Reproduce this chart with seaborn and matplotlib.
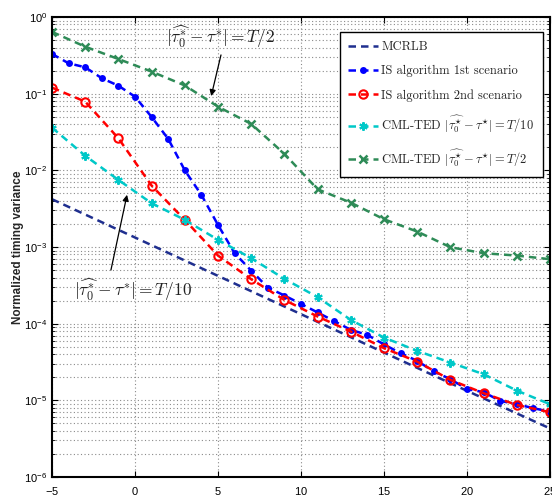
import numpy as np
import pandas as pd
import matplotlib
matplotlib.use("Agg")
import matplotlib.pyplot as plt
import seaborn as sns

# SNR grids (dB)
snr_1db = list(range(-5, 26))
snr_2db = list(range(-5, 26, 2))
snr_bound = [-5, 0, 5, 10, 15, 20, 25]

# Modified Cramer-Rao lower bound
mcrlb = [4.2e-3, 1.33e-3, 4.2e-4, 1.33e-4, 4.2e-5, 1.33e-5, 4.3e-6]

# IS algorithm, 1st scenario (every dB)
is_first = [0.33, 0.249, 0.221, 0.159, 0.127, 0.0914, 0.0497, 0.0257, 0.0100,
            0.00478, 0.00194, 8.3e-4, 4.92e-4, 2.96e-4, 2.33e-4, 1.81e-4,
            1.40e-4, 1.08e-4, 8.3e-5, 7.14e-5, 5.35e-5, 4.12e-5, 3.27e-5,
            2.38e-5, 1.89e-5, 1.40e-5, 1.28e-5, 9.84e-6, 8.9e-6, 7.9e-6, 7.1e-6]

# IS algorithm, 2nd scenario (every 2 dB)
is_second = [0.12, 0.0787, 0.0262, 0.00632, 0.00226, 7.73e-4, 3.8e-4, 2.04e-4,
             1.24e-4, 7.9e-5, 4.79e-5, 3.2e-5, 1.85e-5, 1.24e-5, 8.7e-6, 7.0e-6]

# CML-TED with initial offset T/10
cml_t10 = [0.036, 0.0155, 0.0075, 0.00372, 0.00226, 0.00124, 7.14e-4, 3.84e-4,
           2.22e-4, 1.12e-4, 6.59e-5, 4.42e-5, 3.11e-5, 2.19e-5, 1.34e-5, 8.9e-6]

# CML-TED with initial offset T/2
cml_t2 = [0.64, 0.41, 0.283, 0.194, 0.128, 0.0677, 0.0403, 0.0164, 0.00566,
          0.00379, 0.0023, 0.00159, 9.93e-4, 8.3e-4, 7.73e-4, 6.93e-4]

labels = [
    "MCRLB",
    "IS algorithm 1st scenario",
    "IS algorithm 2nd scenario",
    r"CML-TED $|\widehat{\tau_0^{\star}}-\tau^{\star}|=T/10$",
    r"CML-TED $|\widehat{\tau_0^{\star}}-\tau^{\star}|=T/2$",
]

sns.set_style("ticks")
plt.rcParams["mathtext.fontset"] = "cm"
plt.rcParams["font.family"] = ["Liberation Sans", "DejaVu Sans"]
plt.rcParams["axes.formatter.use_mathtext"] = True

fig = plt.figure(figsize=(5.52, 4.99), dpi=100)
ax = fig.add_axes([52 / 552, 1 - 477 / 499, 498 / 552, 460 / 499])

dash = (3, 2)
lw = 1.8

sns.lineplot(x=snr_bound, y=mcrlb, ax=ax, color="#1f2f8f", lw=lw,
             dashes=False, label=labels[0])
ax.lines[-1].set_dashes(dash)

sns.lineplot(x=snr_1db, y=is_first, ax=ax, color="#0000ff", lw=lw,
             marker="o", markersize=5, markeredgewidth=0, label=labels[1])
ax.lines[-1].set_dashes(dash)

sns.lineplot(x=snr_2db, y=is_second, ax=ax, color="#ff0000", lw=lw,
             marker="o", markersize=6, markerfacecolor="none",
             markeredgecolor="#ff0000", markeredgewidth=1.5, label=labels[2])
ax.lines[-1].set_dashes(dash)

sns.lineplot(x=snr_2db, y=cml_t10, ax=ax, color="#00c8c8", lw=lw,
             marker=(6, 2, 0), markersize=6, markeredgewidth=1.5,
             markeredgecolor="#00c8c8", label=labels[3])
ax.lines[-1].set_dashes(dash)

sns.lineplot(x=snr_2db, y=cml_t2, ax=ax, color="#2e8b57", lw=lw,
             marker="x", markersize=5.5, markeredgewidth=1.8,
             markeredgecolor="#2e8b57", label=labels[4])
ax.lines[-1].set_dashes(dash)

ax.set_yscale("log")
ax.set_xlim(-5, 25)
ax.set_ylim(1e-6, 1)
ax.set_xticks([-5, 0, 5, 10, 15, 20, 25])
ax.set_yticks([1e-6, 1e-5, 1e-4, 1e-3, 1e-2, 1e-1, 1])

ax.grid(True, which="major", axis="both", linestyle=(0, (1, 2.2)),
        color="#8a8a8a", linewidth=0.8)
ax.grid(True, which="minor", axis="y", linestyle=(0, (1, 2.2)),
        color="#8a8a8a", linewidth=0.8)
ax.set_axisbelow(True)

for side in ["left", "right", "top", "bottom"]:
    ax.spines[side].set_visible(True)
    ax.spines[side].set_color("black")
    ax.spines[side].set_linewidth(1.5)

ax.tick_params(which="both", direction="in", top=True, right=True,
               labelsize=8, colors="black")
ax.tick_params(which="major", length=4, width=0.8)
ax.tick_params(which="minor", length=2, width=0.6)
ax.tick_params(axis="x", pad=6)

ax.set_xlabel("SNR dB", fontsize=9, fontweight="bold", labelpad=1)
ax.set_ylabel("Normalized timing variance", fontsize=8.5, fontweight="bold",
              labelpad=0)

leg = ax.legend(loc="upper right", bbox_to_anchor=(0.986, 0.967),
                borderaxespad=0, frameon=True, fancybox=False,
                framealpha=1, edgecolor="black", handlelength=2.4,
                handletextpad=0.25, labelspacing=0.95, borderpad=0.7,
                prop={"family": "cmr10", "size": 9})
leg.get_frame().set_linewidth(1.0)

# T/2 callout
ax.text(5.18, 0.55, r"$|\widehat{\tau_0^{*}}-\tau^{*}|=T/2$", fontsize=12.5,
        ha="center", va="center", color="#222222")
ax.annotate("", xy=(4.59, 0.093), xytext=(5.18, 0.32),
            arrowprops=dict(arrowstyle="-|>", color="black", lw=0.9,
                            mutation_scale=9, shrinkA=0, shrinkB=0))

# T/10 callout
ax.text(-0.12, 2.76e-4, r"$|\widehat{\tau_0^{*}}-\tau^{*}|=T/10$", fontsize=12.5,
        ha="center", va="center", color="#222222")
ax.annotate("", xy=(-0.48, 4.8e-3), xytext=(-1.45, 5.0e-4),
            arrowprops=dict(arrowstyle="-|>", color="black", lw=0.9,
                            mutation_scale=9, shrinkA=0, shrinkB=0))

fig.savefig("out.png", dpi=100)
